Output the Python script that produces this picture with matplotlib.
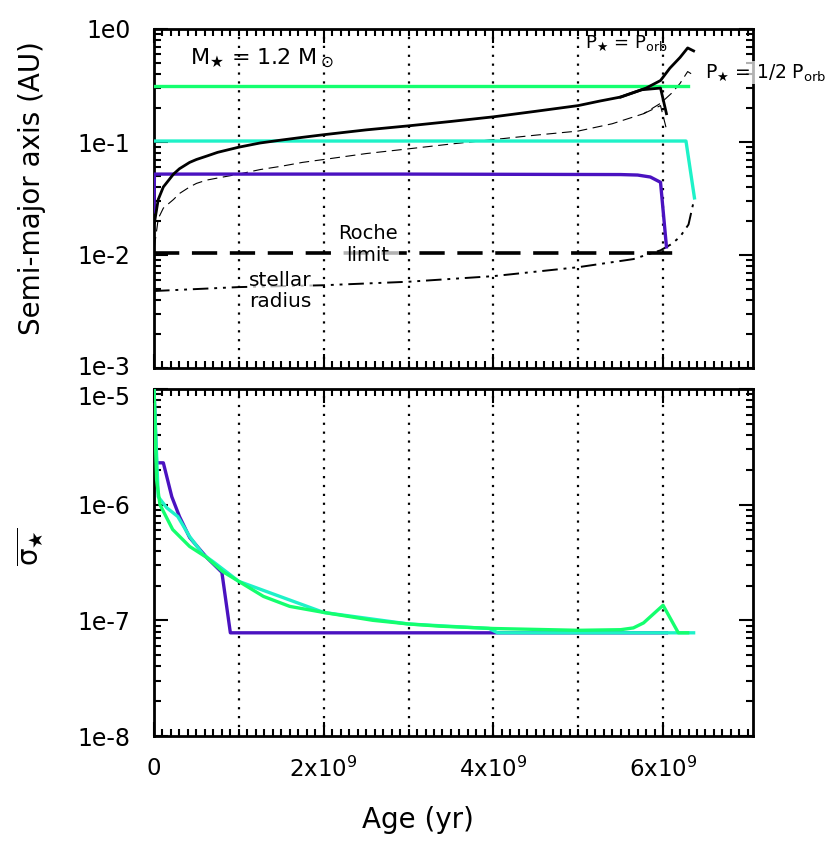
import numpy as np
import matplotlib
matplotlib.use("Agg")
import matplotlib.pyplot as plt
from matplotlib.ticker import FixedLocator, FuncFormatter, LogLocator, MultipleLocator, NullFormatter

plt.rcParams['font.family'] = ['DejaVu Sans']
plt.rcParams['mathtext.fontset'] = 'dejavusans'

# ---------------- data (ages in units of 1e9 yr) ----------------
# top panel: semi-major axes (AU)
green_age = [0.0, 6.29]
green_a = [0.316, 0.316]
cyan_age = [0.0, 6.27, 6.37]
cyan_a = [0.102, 0.102, 0.032]
purple_age = [0.0, 0.005, 1.0, 3.0, 5.5, 5.7, 5.85, 5.97, 6.04]
purple_a = [0.024, 0.052, 0.052, 0.052, 0.0515, 0.051, 0.049, 0.044, 0.0118]

sync_age = [0.005, 0.05, 0.11, 0.23, 0.3, 0.42, 0.5, 0.62, 0.75, 1.0, 1.25, 1.5, 1.75, 2.0, 2.5, 3.0,
            3.5, 4.0, 4.5, 5.0, 5.25, 5.5, 5.8, 5.97, 6.08, 6.2, 6.29, 6.36]
sync_a = [0.0193, 0.031, 0.040, 0.052, 0.058, 0.066, 0.070, 0.075, 0.081, 0.090, 0.098, 0.104, 0.110,
          0.116, 0.128, 0.139, 0.152, 0.167, 0.187, 0.21, 0.23, 0.25, 0.30, 0.35, 0.45, 0.56, 0.68, 0.64]
sync2_age = [5.5, 5.75, 5.97, 6.04]
sync2_a = [0.25, 0.29, 0.30, 0.178]

half_age = [0.005, 0.05, 0.11, 0.23, 0.3, 0.42, 0.5, 0.62, 0.75, 1.0, 1.25, 1.5, 1.75, 2.0, 2.5, 3.0,
            3.5, 4.0, 4.5, 5.0, 5.4, 5.77, 5.97, 6.1, 6.2, 6.29, 6.36]
half_a = [0.0118, 0.021, 0.026, 0.031, 0.035, 0.040, 0.043, 0.046, 0.048, 0.052, 0.057, 0.061, 0.066,
          0.070, 0.079, 0.087, 0.096, 0.105, 0.115, 0.125, 0.145, 0.178, 0.22, 0.27, 0.33, 0.42, 0.39]
half2_age = [5.77, 5.97, 6.04]
half2_a = [0.178, 0.21, 0.13]

roche_age = [0.0, 6.25]
roche_a = [0.0105, 0.0105]

rstar_age = [0.0, 1.0, 2.0, 3.0, 4.0, 5.0, 5.65, 5.97, 6.1, 6.2, 6.3, 6.37]
rstar_a = [0.0048, 0.0052, 0.0054, 0.0058, 0.0065, 0.0078, 0.0092, 0.011, 0.0125, 0.0145, 0.0186, 0.032]

# bottom panel: dissipation sigma
sg_green_age = [0.0, 0.03, 0.07, 0.22, 0.42, 0.62, 0.81, 1.0, 1.29, 1.6, 2.0, 2.58, 3.0, 3.37, 4.0, 5.0,
                5.5, 5.65, 5.77, 6.0, 6.18, 6.29]
sg_green = [1e-5, 1.65e-6, 1.0e-6, 6.1e-7, 4.35e-7, 3.5e-7, 2.64e-7, 2.17e-7, 1.61e-7, 1.32e-7, 1.17e-7,
            1.0e-7, 9.3e-8, 8.9e-8, 8.5e-8, 8.2e-8, 8.3e-8, 8.6e-8, 9.5e-8, 1.35e-7, 7.8e-8, 7.8e-8]
sg_cyan_age = [0.0, 0.05, 0.15, 0.28, 0.42, 0.58, 0.7, 1.0, 2.0, 3.0, 3.95, 4.05, 6.36]
sg_cyan = [1e-5, 1.17e-6, 9.4e-7, 7.9e-7, 5.3e-7, 3.7e-7, 3.2e-7, 2.17e-7, 1.17e-7, 9.3e-8, 8.5e-8, 7.8e-8, 7.8e-8]
sg_purple_age = [0.0, 0.03, 0.11, 0.21, 0.3, 0.42, 0.62, 0.8, 0.9, 4.0, 6.04]
sg_purple = [1e-5, 2.3e-6, 2.3e-6, 1.17e-6, 7.9e-7, 5.2e-7, 3.5e-7, 2.6e-7, 7.8e-8, 7.8e-8, 7.8e-8]

xticks = [0, 2, 4, 6]
xticklabels = ['0', r'2x10$^9$', r'4x10$^9$', r'6x10$^9$']
vlines = [1, 2, 3, 4, 5, 6]

C_GREEN = '#14ff6e'
C_CYAN = '#1ef2c8'
C_PURPLE = '#4a12c0'

YLAB = 17
YPAD = 17

W, H = 831, 842
fig = plt.figure(figsize=(W / 100, H / 100), dpi=100)
ax1 = fig.add_axes([154 / W, 1 - 368 / H, 599 / W, 339 / H])
ax2 = fig.add_axes([154 / W, 1 - 736 / H, 599 / W, 347 / H])

E9 = 1e9
def xs(v):
    return np.asarray(v) * E9

def make_fmt(skip):
    def logfmt(v, pos):
        e = int(round(np.log10(v)))
        if e == skip:
            return ''
        return f'1e{e}'
    return logfmt

for ax, skip in ((ax1, -3), (ax2, -5)):
    ax.set_yscale('log')
    ax.set_xlim(0, 7.06e9)
    for v in vlines:
        ax.axvline(v * E9, color='black', linestyle=(0, (1, 3)), linewidth=1.6, zorder=1)
    ax.xaxis.set_major_locator(FixedLocator([t * E9 for t in xticks]))
    ax.xaxis.set_minor_locator(MultipleLocator(1e8))
    ax.yaxis.set_major_locator(LogLocator(base=10, numticks=20))
    ax.yaxis.set_minor_locator(LogLocator(base=10, subs=np.arange(2, 10), numticks=20))
    ax.yaxis.set_major_formatter(FuncFormatter(make_fmt(skip)))
    ax.yaxis.set_minor_formatter(NullFormatter())
    ax.tick_params(which='both', direction='in', top=True, right=True, width=1.5)
    ax.tick_params(which='major', length=10)
    ax.tick_params(axis='y', which='major', labelsize=YLAB, pad=YPAD)
    ax.tick_params(axis='x', which='major', labelsize=16.5, pad=15)
    ax.tick_params(which='minor', length=5)
    for s in ax.spines.values():
        s.set_linewidth(2)

ax1.set_ylim(1e-3, 1e0)
ax2.set_ylim(1e-8, 1e-5)
ax1.set_xticklabels([])
ax2.set_xticklabels(xticklabels)

# the two crowded labels at the panel junction, nudged apart
ax1.annotate('1e-3', xy=(0, 1e-3), xycoords=('axes fraction', 'data'), xytext=(-YPAD, 2),
             textcoords='offset points', ha='right', va='center_baseline', fontsize=YLAB)
ax2.annotate('1e-5', xy=(0, 1e-5), xycoords=('axes fraction', 'data'), xytext=(-YPAD, -5),
             textcoords='offset points', ha='right', va='center_baseline', fontsize=YLAB)

# ---- top panel ----
ax1.plot(xs(rstar_age), rstar_a, color='black', lw=1.4, linestyle=(0, (8, 3, 1.5, 3, 1.5, 3)), zorder=3)
ax1.plot(xs(roche_age), roche_a, color='black', lw=2.6, linestyle=(0, (7, 3.5)), zorder=3)
ax1.plot(xs(half_age), half_a, color='black', lw=0.8, linestyle=(0, (9, 5)), zorder=3)
ax1.plot(xs(half2_age), half2_a, color='black', lw=0.8, linestyle=(0, (9, 5)), zorder=3)
ax1.plot(xs(purple_age), purple_a, color=C_PURPLE, lw=2.4, zorder=4)
ax1.plot(xs(cyan_age), cyan_a, color=C_CYAN, lw=2.4, zorder=4)
ax1.plot(xs(green_age), green_a, color=C_GREEN, lw=2.4, zorder=4)
ax1.plot(xs(sync_age), sync_a, color='black', lw=2.0, zorder=5)
ax1.plot(xs(sync2_age), sync2_a, color='black', lw=2.0, zorder=5)

box = dict(facecolor='white', edgecolor='none', alpha=0.7, pad=1)
ax1.text(0.42e9, 0.55, r'M$_\bigstar$ = 1.2 M$_\odot$', fontsize=16, ha='left', va='center', zorder=6)
ax1.text(2.52e9, 0.0124, 'Roche\nlimit', fontsize=14, ha='center', va='center',
         linespacing=1.2, bbox=box, zorder=6)
ax1.text(1.49e9, 0.0048, 'stellar\nradius', fontsize=14.5, ha='center', va='center',
         linespacing=1.1, bbox=box, zorder=6)
ax1.text(5.08e9, 0.75, r'P$_\bigstar$ = P$_{\rm orb}$', fontsize=13, ha='left', va='center', zorder=6)
ax1.text(6.5e9, 0.41, r'P$_\bigstar$ = 1/2 P$_{\rm orb}$', fontsize=13.5, ha='left', va='center',
         bbox=box, clip_on=False, zorder=10)

# ---- bottom panel ----
ax2.plot(xs(sg_purple_age), sg_purple, color=C_PURPLE, lw=2.4, zorder=4)
ax2.plot(xs(sg_cyan_age), sg_cyan, color=C_CYAN, lw=2.4, zorder=4)
ax2.plot(xs(sg_green_age), sg_green, color=C_GREEN, lw=2.4, zorder=4)

fig.text(32 / W, 1 - 188 / H, 'Semi-major axis (AU)', rotation=90, ha='center', va='center', fontsize=20)
fig.text(30 / W, 1 - 547 / H, r'$\overline{\mathrm{\sigma}_\bigstar}$', rotation=90, ha='center',
         va='center', fontsize=20)
fig.text(418 / W, 1 - 820 / H, 'Age (yr)', ha='center', va='center', fontsize=20)

fig.savefig('out.png', dpi=100)
